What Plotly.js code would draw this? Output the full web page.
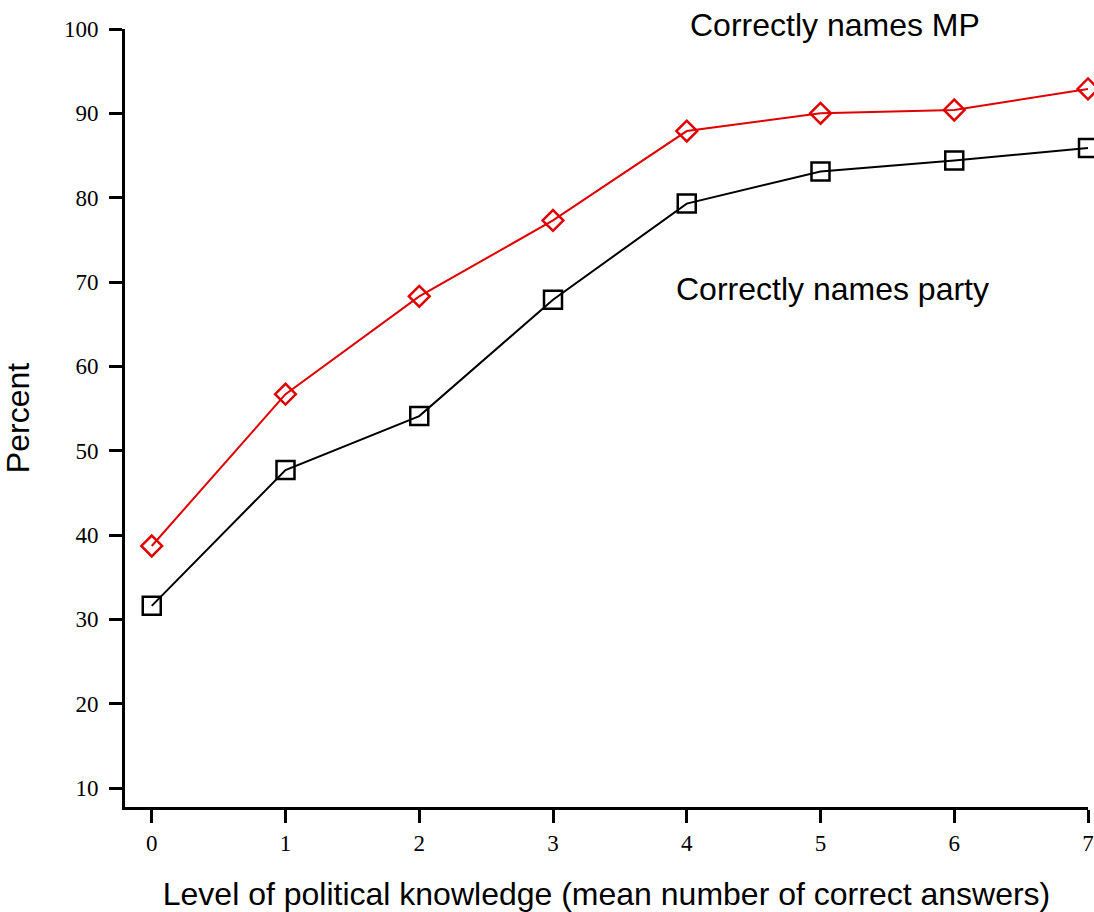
<!DOCTYPE html>
<html>
<head>
<meta charset="utf-8">
<script src="https://cdn.plot.ly/plotly-3.0.1.min.js"></script>
<style>html,body{margin:0;padding:0;background:#fff;}#chart{width:1094px;height:912px;}</style>
</head>
<body>
<div id="chart"></div>
<script>
var knowledge = [0, 1, 2, 3, 4, 5, 6, 7];
var namesMP = [38.7, 56.7, 68.3, 77.3, 87.9, 90.0, 90.4, 92.9];
var namesParty = [31.6, 47.7, 54.1, 67.9, 79.3, 83.1, 84.4, 85.9];
var yTicks = [10, 20, 30, 40, 50, 60, 70, 80, 90, 100];

var traces = [
  {x: knowledge, y: namesMP, mode: 'lines+markers', name: 'Correctly names MP',
   line: {color: '#e00000', width: 2},
   marker: {symbol: 'diamond-open', size: 16, color: '#e00000', line: {width: 2.5, color: '#e00000'}},
   cliponaxis: false},
  {x: knowledge, y: namesParty, mode: 'lines+markers', name: 'Correctly names party',
   line: {color: '#000', width: 2},
   marker: {symbol: 'square-open', size: 18, color: '#000', line: {width: 2.5, color: '#000'}},
   cliponaxis: false}
];

var sans = 'Liberation Sans, Arial, sans-serif';
var serif = 'Liberation Serif, Times New Roman, serif';

var layout = {
  width: 1094, height: 912,
  margin: {l: 125, r: 6, t: 29, b: 105},
  paper_bgcolor: '#fff', plot_bgcolor: '#fff',
  showlegend: false,
  xaxis: {
    range: [-0.2, 7], tickvals: knowledge, ticktext: knowledge.map(String),
    showgrid: false, zeroline: false, showline: true, linecolor: '#000', linewidth: 3,
    ticks: 'outside', ticklen: 13, tickwidth: 3, tickcolor: '#000',
    tickfont: {family: serif, size: 23, color: '#000'},
    title: {text: 'Level of political knowledge (mean number of correct answers)',
            font: {family: sans, size: 32, color: '#000'}, standoff: 30}
  },
  yaxis: {
    range: [7.75, 100], tickvals: yTicks, ticktext: yTicks.map(String),
    showgrid: false, zeroline: false, showline: true, linecolor: '#000', linewidth: 3,
    ticks: 'outside', ticklen: 13, tickwidth: 3, tickcolor: '#000',
    ticklabelstandoff: 6,
    tickfont: {family: serif, size: 23, color: '#000'},
    title: {text: 'Percent', font: {family: sans, size: 32, color: '#000'}, standoff: 26}
  },
  annotations: [
    {x: 5.11, y: 1.005, xref: 'x', yref: 'paper', yanchor: 'middle', text: 'Correctly names MP', showarrow: false,
     font: {family: sans, size: 32, color: '#000'}},
    {x: 5.09, y: 69.2, xref: 'x', yref: 'y', yanchor: 'middle', text: 'Correctly names party', showarrow: false,
     font: {family: sans, size: 32, color: '#000'}}
  ]
};

Plotly.newPlot('chart', traces, layout, {displayModeBar: false, staticPlot: true});
</script>
</body>
</html>
